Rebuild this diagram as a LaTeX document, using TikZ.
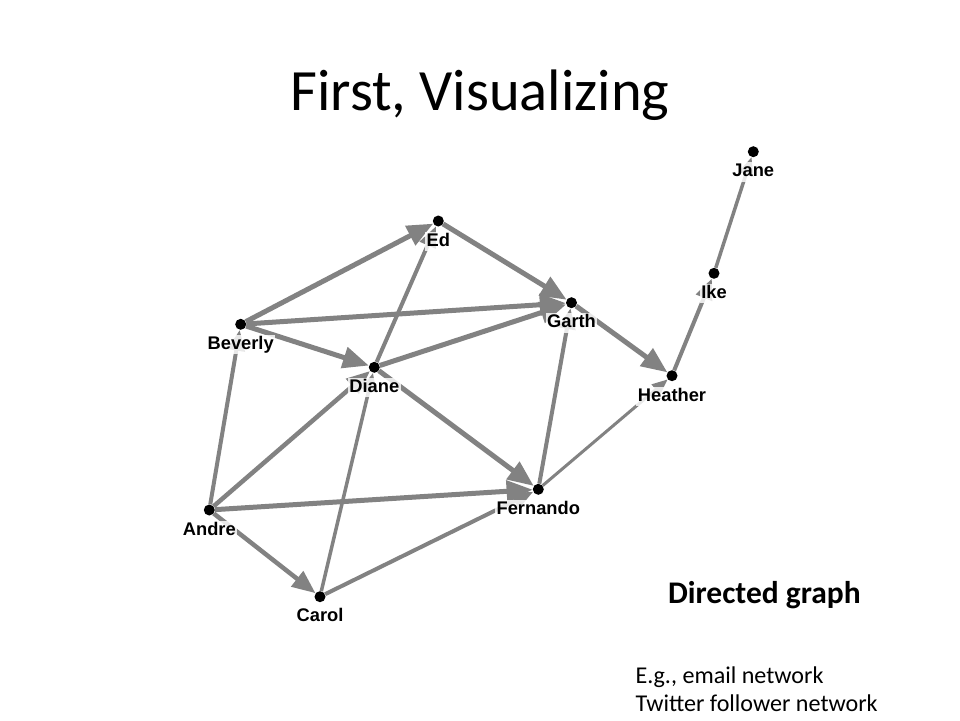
\documentclass[tikz,border=0pt]{standalone}
\usepackage{fontspec}
\setmainfont{Carlito}
\newfontfamily\labelfont{Liberation Sans}
\usetikzlibrary{arrows.meta}

\definecolor{edgegray}{RGB}{130,130,130}

\tikzset{
  vertex/.style={circle, fill=black, draw=none, inner sep=0pt, minimum size=11pt},
  vlabel/.style={anchor=base, font=\labelfont\bfseries\fontsize{18.3}{18}\selectfont,
    fill=white, fill opacity=0.82, text opacity=1, inner sep=1.5pt,
    text height=13pt, text depth=3.5pt},
  link/.style={draw=edgegray, line cap=butt,
    -{Triangle[length=0pt 5.2, width=0pt 4.2]}},
  titletext/.style={anchor=base, font=\fontsize{58.5}{60}\selectfont},
  headtext/.style={anchor=base west, font=\bfseries\fontsize{31.5}{33}\selectfont},
  notetext/.style={anchor=base west, font=\fontsize{24.1}{26}\selectfont}
}

\begin{document}
\begin{tikzpicture}[x=1pt, y=-1pt]
  \useasboundingbox[fill=white] (0,0) rectangle (960,720);

  % vertices
  \node[vertex] (jane)    at (753.3,151.7) {};
  \node[vertex] (ike)     at (714,273.3) {};
  \node[vertex] (heather) at (672,375.7) {};
  \node[vertex] (garth)   at (571.5,302.7) {};
  \node[vertex] (ed)      at (438.3,221) {};
  \node[vertex] (beverly) at (240.7,324.3) {};
  \node[vertex] (diane)   at (374.3,367.3) {};
  \node[vertex] (andre)   at (209.3,510) {};
  \node[vertex] (fernando)at (538.3,489.3) {};
  \node[vertex] (carol)   at (320,596.7) {};

  % directed links
  \draw[link, line width=5pt]   (beverly) -- (ed);
  \draw[link, line width=5pt]   (beverly) -- (garth);
  \draw[link, line width=5pt]   (beverly) -- (diane);
  \draw[link, line width=5pt]   (ed) -- (garth);
  \draw[link, line width=4pt]   (diane) -- (ed);
  \draw[link, line width=5pt]   (diane) -- (garth);
  \draw[link, line width=5pt]   (diane) -- (fernando);
  \draw[link, line width=5pt]   (garth) -- (heather);
  \draw[link, line width=4pt]   (fernando) -- (garth);
  \draw[link, line width=3pt]   (fernando) -- (heather);
  \draw[link, line width=4pt]   (heather) -- (ike);
  \draw[link, line width=3.5pt] (ike) -- (jane);
  \draw[link, line width=4pt]   (andre) -- (beverly);
  \draw[link, line width=4.5pt] (andre) -- (diane);
  \draw[link, line width=5pt]   (andre) -- (fernando);
  \draw[link, line width=4.5pt] (andre) -- (carol);
  \draw[link, line width=3.5pt] (carol) -- (diane);
  \draw[link, line width=4pt]   (carol) -- (fernando);

  % vertex names
  \node[vlabel] (jane-l)     at (753.3,176.7) {Jane};
  \node[vlabel] (ike-l)      at (714,298.3) {Ike};
  \node[vlabel] (heather-l)  at (672,401) {Heather};
  \node[vlabel] (garth-l)    at (571.5,327.7) {Garth};
  \node[vlabel] (ed-l)       at (438.3,246) {Ed};
  \node[vlabel] (beverly-l)  at (240.7,349.3) {Beverly};
  \node[vlabel] (diane-l)    at (374.3,392.3) {Diane};
  \node[vlabel] (andre-l)    at (209.3,535) {Andre};
  \node[vlabel] (fernando-l) at (538.3,514.3) {Fernando};
  \node[vlabel] (carol-l)    at (320,621.7) {Carol};

  % slide text
  \node[titletext] (title) at (480,110) {First, Visualizing};
  \node[headtext] (kind) at (664.5,603) {Directed graph};
  \node[notetext] (ex1) at (632,683) {E.g., email network};
  \node[notetext] (ex2) at (632,711) {Twitter follower network};
\end{tikzpicture}
\end{document}
